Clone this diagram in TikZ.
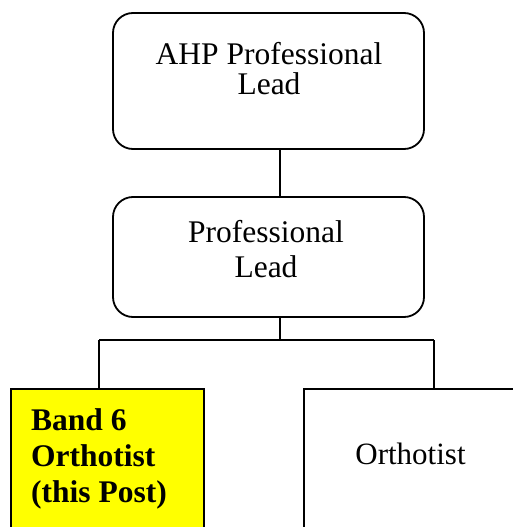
\documentclass[tikz,border=0pt]{standalone}
\usepackage{fontspec}
\setmainfont{Liberation Serif}
\usetikzlibrary{positioning}
\definecolor{postyellow}{RGB}{255,255,0}
\tikzset{
  orgbox/.style={draw,line width=1.8pt,inner sep=0pt},
  roundbox/.style={orgbox,rounded corners=20pt,minimum width=311pt},
  boxtext/.style={align=center,inner sep=0pt},
  link/.style={line width=1.8pt}
}

\begin{document}
\begin{tikzpicture}[x=1pt,y=-1pt]
\clip (0,0) rectangle (513,527);
\useasboundingbox (0,0) rectangle (513,527);
% boxes
\node[roundbox,minimum height=136pt] (ahp) at (268.5,81) {};
\node[roundbox,minimum height=120pt] (lead) at (268.5,257) {};
\node[orgbox,fill=postyellow,minimum width=193pt,minimum height=200pt,anchor=north west] (band) at (10,388) {};
\node[orgbox,minimum width=240pt,minimum height=200pt,anchor=north west] (orth) at (303,388) {};
% texts (base = last line)
\node[boxtext,anchor=base,font=\fontsize{31.5}{29}\selectfont] (ahptext) at (269,94) {AHP Professional\\Lead};
\node[boxtext,anchor=base,font=\fontsize{31.5}{35}\selectfont] (leadtext) at (266,277.5) {Professional\\Lead};
\node[boxtext,anchor=base west,align=left,font=\bfseries\fontsize{31.5}{36}\selectfont] (bandtext) at (31,502) {Band 6\\Orthotist\\(this Post)};
\node[boxtext,anchor=base,font=\fontsize{31}{31}\selectfont] (orthtext) at (410.5,464) {Orthotist};
% connectors
\coordinate (split) at (280,340);
\coordinate (leftdrop) at (99,340);
\coordinate (rightdrop) at (434,340);
\draw[link] (ahp.south -| split) -- (lead.north -| split);
\draw[link] (lead.south -| split) -- (split);
\draw[link] (leftdrop) -- (rightdrop);
\draw[link] (leftdrop) -- (band.north -| leftdrop);
\draw[link] (rightdrop) -- (orth.north -| rightdrop);
\end{tikzpicture}
\end{document}
